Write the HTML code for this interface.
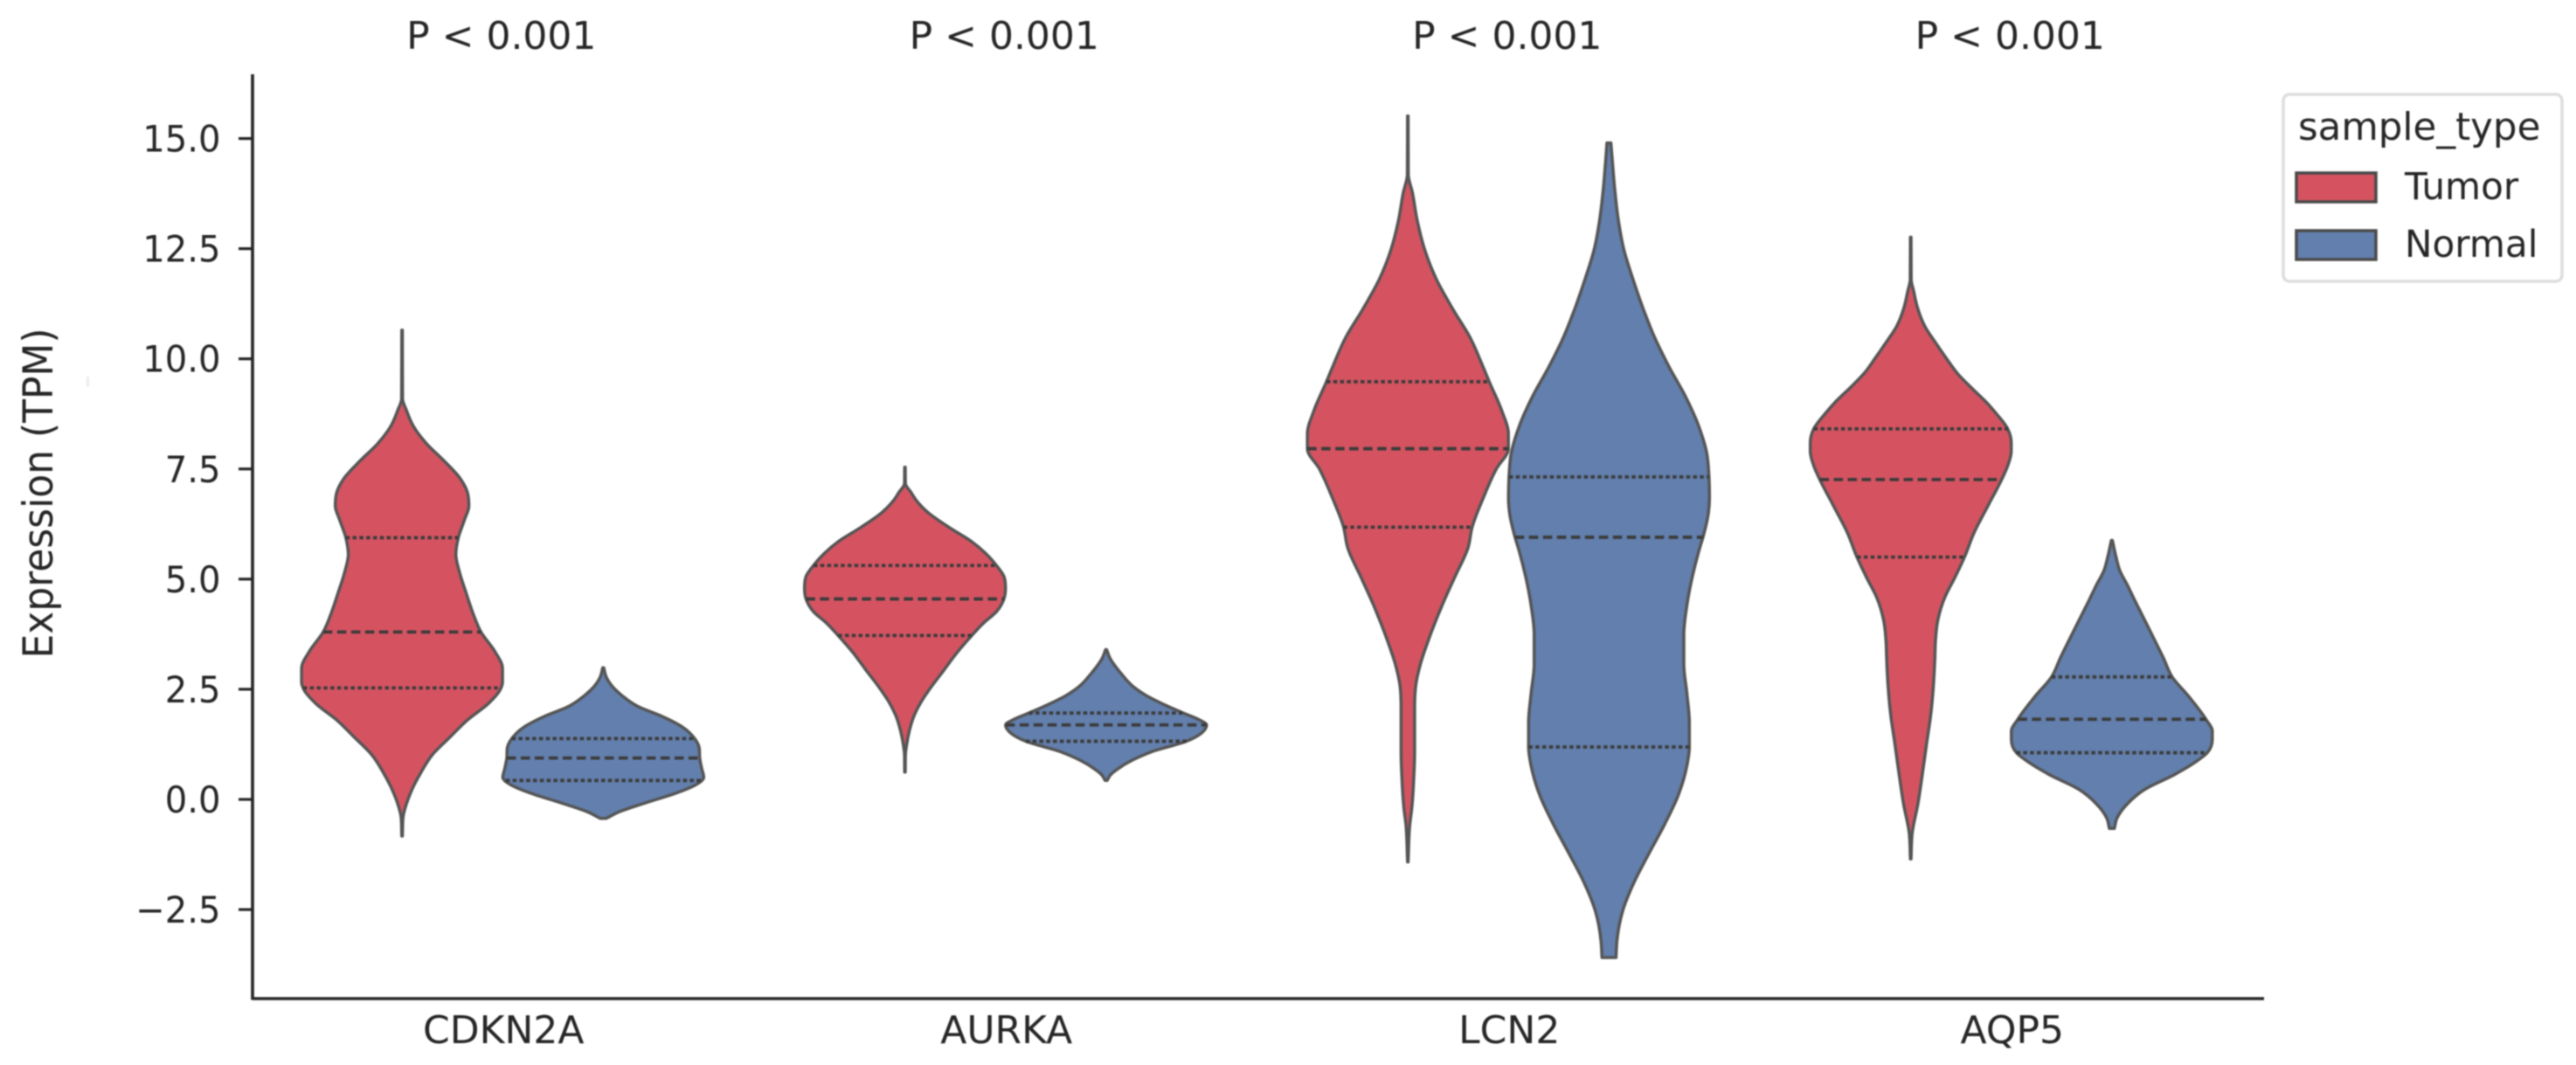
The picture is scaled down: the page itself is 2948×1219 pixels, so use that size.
<!DOCTYPE html>
<html lang="en">
<head>
<meta charset="utf-8">
<title>Expression violin plot</title>
<style>
html,body{margin:0;padding:0;background:#fff;width:2948px;height:1219px;overflow:hidden}
svg{display:block;filter:blur(0.9px)}
text{font-family:"DejaVu Sans","Liberation Sans",sans-serif;fill:#262626}
</style>
</head>
<body>
<svg id="chart" xmlns="http://www.w3.org/2000/svg" width="2948" height="1219" viewBox="0 0 2948 1219"></svg>
<script>
const genes = ['CDKN2A', 'AURKA', 'LCN2', 'AQP5'];
const groups = ['Tumor', 'Normal'];
const pLabels = ['P < 0.001', 'P < 0.001', 'P < 0.001', 'P < 0.001'];
const yTicks = [15, 12.5, 10, 7.5, 5, 2.5, 0, -2.5];
const yTickLabels = ['15.0', '12.5', '10.0', '7.5', '5.0', '2.5', '0.0', '\u22122.5'];

const cdkn2aTumorGrid = [10.65, 9.09, 8.85, 8.46, 8.07, 7.68, 7.28, 6.97, 6.66, 6.34, 5.94, 5.56, 5.17, 4.7, 4.23, 3.8, 3.37, 2.97, 2.66, 2.53, 2.19, 1.8, 1.41, 1.01, 0.62, 0.23, -0.16, -0.4, -0.83];
const cdkn2aTumorDensity = [0.003, 0.005, 0.04, 0.115, 0.245, 0.42, 0.58, 0.65, 0.665, 0.62, 0.56, 0.535, 0.57, 0.635, 0.705, 0.785, 0.92, 1.0, 1.0, 0.985, 0.865, 0.65, 0.475, 0.3, 0.19, 0.1, 0.035, 0.01, 0.003];
const cdkn2aTumorQuartiles = [2.53, 3.8, 5.94];

const cdkn2aNormalGrid = [2.99, 2.78, 2.58, 2.35, 2.11, 1.88, 1.64, 1.38, 1.17, 0.94, 0.7, 0.5, 0.35, 0.15, -0.08, -0.28, -0.43];
const cdkn2aNormalDensity = [0.005, 0.03, 0.085, 0.19, 0.345, 0.59, 0.79, 0.91, 0.955, 0.96, 0.98, 1.0, 0.935, 0.735, 0.42, 0.16, 0.03];
const cdkn2aNormalQuartiles = [0.43, 0.94, 1.38];

const aurkaTumorGrid = [7.54, 7.17, 6.97, 6.78, 6.51, 6.18, 5.85, 5.59, 5.31, 5.06, 4.79, 4.55, 4.26, 4.0, 3.72, 3.34, 2.94, 2.55, 2.21, 1.88, 1.55, 1.22, 1.02, 0.62];
const aurkaTumorDensity = [0.003, 0.005, 0.06, 0.115, 0.23, 0.435, 0.665, 0.8, 0.91, 0.985, 1.0, 0.985, 0.91, 0.78, 0.665, 0.52, 0.39, 0.26, 0.16, 0.087, 0.043, 0.015, 0.005, 0.003];
const aurkaTumorQuartiles = [3.72, 4.55, 5.31];

const aurkaNormalGrid = [3.4, 3.2, 2.87, 2.55, 2.35, 2.15, 1.96, 1.82, 1.69, 1.55, 1.32, 1.09, 0.89, 0.69, 0.56, 0.43];
const aurkaNormalDensity = [0.005, 0.04, 0.145, 0.275, 0.405, 0.58, 0.77, 0.915, 1.0, 0.97, 0.8, 0.465, 0.26, 0.115, 0.045, 0.01];
const aurkaNormalQuartiles = [1.32, 1.69, 1.96];

const lcn2TumorGrid = [15.51, 14.18, 13.78, 13.12, 12.46, 11.8, 11.14, 10.48, 9.81, 9.48, 8.82, 8.3, 7.96, 7.5, 6.84, 6.18, 5.72, 5.06, 4.4, 3.74, 3.07, 2.61, 2.08, 1.09, 0.43, -0.23, -0.56, -1.42];
const lcn2TumorDensity = [0.003, 0.005, 0.045, 0.095, 0.17, 0.285, 0.445, 0.62, 0.75, 0.81, 0.935, 1.0, 1.0, 0.88, 0.75, 0.64, 0.6, 0.47, 0.34, 0.225, 0.125, 0.08, 0.067, 0.067, 0.058, 0.038, 0.02, 0.003];
const lcn2TumorQuartiles = [6.18, 7.96, 9.48];

const lcn2NormalGrid = [14.9, 14.44, 13.78, 13.12, 12.46, 11.8, 11.14, 10.48, 9.81, 9.15, 8.49, 7.83, 7.32, 6.84, 6.51, 5.95, 5.72, 5.06, 4.4, 3.74, 3.07, 2.41, 1.75, 1.19, 0.76, 0.1, -0.56, -1.22, -1.88, -2.54, -3.2, -3.59];
const lcn2NormalDensity = [0.02, 0.035, 0.06, 0.095, 0.15, 0.24, 0.34, 0.455, 0.6, 0.76, 0.89, 0.975, 0.995, 1.0, 0.99, 0.935, 0.905, 0.83, 0.775, 0.745, 0.745, 0.775, 0.8, 0.8, 0.775, 0.69, 0.555, 0.4, 0.25, 0.135, 0.08, 0.07];
const lcn2NormalQuartiles = [1.19, 5.95, 7.32];

const aqp5TumorGrid = [12.76, 11.8, 11.53, 11.14, 10.74, 10.34, 10.01, 9.68, 9.35, 9.02, 8.76, 8.41, 8.1, 7.9, 7.57, 7.26, 6.71, 6.05, 5.5, 5.06, 4.59, 4.07, 3.54, 3.2, 2.55, 1.88, 1.22, 0.56, -0.1, -0.76, -1.35];
const aqp5TumorDensity = [0.003, 0.005, 0.03, 0.07, 0.14, 0.255, 0.355, 0.46, 0.6, 0.75, 0.85, 0.965, 1.0, 1.0, 0.965, 0.905, 0.78, 0.63, 0.535, 0.445, 0.34, 0.27, 0.245, 0.24, 0.225, 0.197, 0.155, 0.115, 0.072, 0.015, 0.003];
const aqp5TumorQuartiles = [5.5, 7.26, 8.41];

const aqp5NormalGrid = [5.88, 5.52, 5.19, 4.86, 4.53, 3.87, 3.2, 2.78, 2.35, 1.82, 1.55, 1.36, 1.06, 0.83, 0.56, 0.23, -0.1, -0.43, -0.66];
const aqp5NormalDensity = [0.005, 0.04, 0.08, 0.155, 0.225, 0.37, 0.515, 0.6, 0.76, 0.935, 1.0, 1.0, 0.95, 0.82, 0.62, 0.33, 0.155, 0.05, 0.025];
const aqp5NormalQuartiles = [1.06, 1.82, 2.78];

const NS = 'http://www.w3.org/2000/svg';
const svg = document.getElementById('chart');
const plot = { left: 289, right: 2591, top: 85, bottom: 1143 };
const colors = ['#d55361', '#627fad'];
const bandWidth = (plot.right - plot.left) / genes.length;
const xBand = i => plot.left + (i + 0.5) * bandWidth - 1.5;
const xGroup = (i, g) => xBand(i) + (g - 0.5) * 0.4 * bandWidth;
const yAxis = v => 915 - 50.43 * v;
const widthAxis = d => d * 115;

function make(tag, parent) {
  const el = document.createElementNS(NS, tag);
  parent.appendChild(el);
  return el;
}
function styleText(el, str, x, y, size, anchor, sx) {
  el.textContent = str;
  el.setAttribute('font-size', size);
  el.setAttribute('text-anchor', anchor);
  el.setAttribute('transform', 'translate(' + x + ',' + y + ') scale(' + sx + ',1)');
}
function line(el, x1, y1, x2, y2, stroke, w) {
  el.setAttribute('x1', x1);
  el.setAttribute('y1', y1);
  el.setAttribute('x2', x2);
  el.setAttribute('y2', y2);
  el.setAttribute('stroke', stroke);
  el.setAttribute('stroke-width', w);
}
function densityAt(grid, dens, v) {
  for (let k = 0; k < grid.length - 1; k++) {
    if (v <= grid[k] && v >= grid[k + 1]) {
      const t = (grid[k] - v) / (grid[k] - grid[k + 1]);
      return dens[k] + t * (dens[k + 1] - dens[k]);
    }
  }
  return 0;
}
function smooth(pts) {
  const n = pts.length;
  const h = [], s = [], m = [];
  for (let k = 0; k < n - 1; k++) {
    h[k] = pts[k + 1][1] - pts[k][1];
    s[k] = (pts[k + 1][0] - pts[k][0]) / h[k];
  }
  m[0] = s[0];
  m[n - 1] = s[n - 2];
  for (let k = 1; k < n - 1; k++) {
    const p = (s[k - 1] * h[k] + s[k] * h[k - 1]) / (h[k - 1] + h[k]);
    if (s[k - 1] * s[k] <= 0) {
      m[k] = 0;
    } else {
      const limit = 3 * Math.min(Math.abs(s[k - 1]), Math.abs(s[k]));
      m[k] = Math.sign(p) * Math.min(Math.abs(p), limit);
    }
  }
  let d = '';
  for (let k = 0; k < n - 1; k++) {
    const c1x = pts[k][0] + m[k] * h[k] / 3, c1y = pts[k][1] + h[k] / 3;
    const c2x = pts[k + 1][0] - m[k + 1] * h[k] / 3, c2y = pts[k + 1][1] - h[k] / 3;
    d += 'C' + c1x.toFixed(1) + ' ' + c1y.toFixed(1) + ' ' + c2x.toFixed(1) + ' ' + c2y.toFixed(1) + ' ' + pts[k + 1][0].toFixed(1) + ' ' + pts[k + 1][1].toFixed(1);
  }
  return d;
}

const violins = [
  [0, 0, cdkn2aTumorGrid, cdkn2aTumorDensity, cdkn2aTumorQuartiles],
  [0, 1, cdkn2aNormalGrid, cdkn2aNormalDensity, cdkn2aNormalQuartiles],
  [1, 0, aurkaTumorGrid, aurkaTumorDensity, aurkaTumorQuartiles],
  [1, 1, aurkaNormalGrid, aurkaNormalDensity, aurkaNormalQuartiles],
  [2, 0, lcn2TumorGrid, lcn2TumorDensity, lcn2TumorQuartiles],
  [2, 1, lcn2NormalGrid, lcn2NormalDensity, lcn2NormalQuartiles],
  [3, 0, aqp5TumorGrid, aqp5TumorDensity, aqp5TumorQuartiles],
  [3, 1, aqp5NormalGrid, aqp5NormalDensity, aqp5NormalQuartiles]
];

violins.forEach(function (item) {
  const i = item[0], g = item[1], grid = item[2], dens = item[3], quart = item[4];
  const cx = xGroup(i, g);
  const group = make('g', svg);
  
  
  const left = grid.map((v, k) => [cx - widthAxis(dens[k]), yAxis(v)]);
  const right = grid.map((v, k) => [cx + widthAxis(dens[k]), yAxis(v)]).reverse();
  const path = make('path', group);
  path.setAttribute('d', 'M' + left[0][0].toFixed(1) + ' ' + left[0][1].toFixed(1) + smooth(left) + 'L' + right[0][0].toFixed(1) + ' ' + right[0][1].toFixed(1) + smooth(right) + 'Z');
  path.setAttribute('fill', colors[g]);
  path.setAttribute('stroke', '#555555');
  path.setAttribute('stroke-width', '3.5');
  path.setAttribute('stroke-linejoin', 'round');
  
  
  quart.forEach(function (q, n) {
    const hw = widthAxis(densityAt(grid, dens, q));
    const l = make('line', group);
    line(l, cx - hw, yAxis(q), cx + hw, yAxis(q), '#3c3c3c', 3.8);
    l.setAttribute('stroke-dasharray', n === 1 ? '10.5 5.5' : '4.5 3.3');
    
    
  });
});

const yAxisLine = make('line', svg);
line(yAxisLine, plot.left, plot.top, plot.left, plot.bottom + 1.5, '#262626', 3.6);



const xAxisLine = make('line', svg);
line(xAxisLine, plot.left, plot.bottom, plot.right, plot.bottom, '#262626', 3.6);



yTicks.forEach(function (v, k) {
  const tick = make('line', svg);
  line(tick, 273, yAxis(v), plot.left, yAxis(v), '#262626', 3.2);
  
  
  const label = make('text', svg);
  styleText(label, yTickLabels[k], 252.5, yAxis(v) + 15, 42, 'end', 0.955);
  
  
});

genes.forEach(function (name, i) {
  const label = make('text', svg);
  styleText(label, name, xBand(i) + 1, 1194, 44, 'middle', 1.0);
  
  
  const p = make('text', svg);
  styleText(p, pLabels[i], xBand(i) - 1.5, 56, 44, 'middle', 1.0);
  
  
});

const yTitle = make('text', svg);
yTitle.textContent = 'Expression (TPM)';
yTitle.setAttribute('font-size', 47);
yTitle.setAttribute('text-anchor', 'middle');
yTitle.setAttribute('transform', 'translate(60,564.5) rotate(-90) scale(0.935,1)');



const greySpeck = make('rect', svg);
greySpeck.setAttribute('x', 99);
greySpeck.setAttribute('y', 431);
greySpeck.setAttribute('width', 3);
greySpeck.setAttribute('height', 12);
greySpeck.setAttribute('fill', '#eeeeee');



const legend = make('g', svg);


const legendBox = make('rect', legend);
legendBox.setAttribute('x', 2613);
legendBox.setAttribute('y', 108);
legendBox.setAttribute('width', 319);
legendBox.setAttribute('height', 214);
legendBox.setAttribute('rx', 7);
legendBox.setAttribute('fill', '#ffffff');
legendBox.setAttribute('stroke', '#dddddd');
legendBox.setAttribute('stroke-width', 3.5);


const legendTitle = make('text', legend);
styleText(legendTitle, 'sample_type', 2630, 160, 44, 'start', 0.99);


groups.forEach(function (name, g) {
  const top = 198 + g * 66;
  const swatch = make('rect', legend);
  swatch.setAttribute('x', 2628);
  swatch.setAttribute('y', top);
  swatch.setAttribute('width', 91);
  swatch.setAttribute('height', 33);
  swatch.setAttribute('fill', colors[g]);
  swatch.setAttribute('stroke', '#4a4a4a');
  swatch.setAttribute('stroke-width', 3.5);
  
  
  const label = make('text', legend);
  styleText(label, name, 2752, top + 30, 43, 'start', 0.98);
  
  
});
</script>
</body>
</html>
